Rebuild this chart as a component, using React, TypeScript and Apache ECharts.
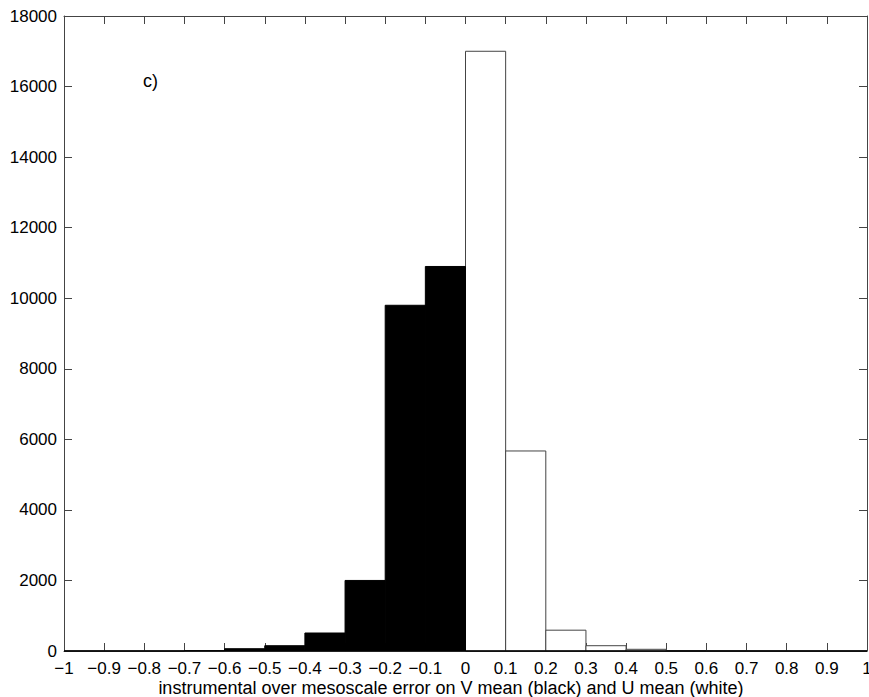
import React, { useEffect, useRef } from "react";
import * as echarts from "echarts";

// Histogram bins (lower and upper edges, width 0.1)
const binLower = [-1, -0.9, -0.8, -0.7, -0.6, -0.5, -0.4, -0.3, -0.2, -0.1, 0, 0.1, 0.2, 0.3, 0.4, 0.5, 0.6, 0.7, 0.8, 0.9];
const binUpper = [-0.9, -0.8, -0.7, -0.6, -0.5, -0.4, -0.3, -0.2, -0.1, 0, 0.1, 0.2, 0.3, 0.4, 0.5, 0.6, 0.7, 0.8, 0.9, 1];
// V mean (black)
const vCounts = [0, 0, 0, 10, 65, 150, 510, 2000, 9800, 10900, 0, 0, 0, 0, 0, 0, 0, 0, 0, 0];
// U mean (white)
const uCounts = [0, 0, 0, 0, 0, 0, 0, 0, 0, 0, 17000, 5670, 590, 150, 48, 12, 6, 3, 2, 0];

const xTitle = "instrumental over mesoscale error on V mean (black) and U mean (white)";
const panelLabel = "c)";

const FONT = "Liberation Sans, Arial, Helvetica, sans-serif";

function fmt(v: number): string {
  const r = Math.round(v * 10) / 10;
  const s = String(Math.abs(r));
  return r < 0 ? "\u2212" + s : s;
}

function makeSeries(name: string, counts: number[], fill: string, stroke: string) {
  return {
    type: "custom",
    name,
    xAxisIndex: 0,
    yAxisIndex: 0,
    data: binLower.map((lo, i) => [lo, binUpper[i], counts[i]]),
    encode: { x: [0, 1], y: 2 },
    renderItem: (_params: any, api: any) => {
      const p0 = api.coord([api.value(0), 0]);
      const p1 = api.coord([api.value(1), api.value(2)]);
      return {
        type: "rect",
        shape: { x: p0[0], y: p1[1], width: p1[0] - p0[0], height: p0[1] - p1[1] },
        style: { fill, stroke, lineWidth: 1 },
      };
    },
  };
}

export default function App() {
  const ref = useRef<HTMLDivElement>(null);
  useEffect(() => {
    if (!ref.current) return;
    const chart = echarts.init(ref.current, null, { renderer: "svg" });
    const axisLine = { show: true, onZero: false, lineStyle: { color: "#444", width: 1 } };
    const tick = { show: true, inside: true, length: 8, lineStyle: { color: "#444", width: 1 } };
    chart.setOption({
      animation: false,
      backgroundColor: "#fff",
      grid: { left: 64, right: 2, top: 16, bottom: 46, containLabel: false, outerBoundsMode: "none" },
      xAxis: [
        {
          type: "value",
          min: -1,
          max: 1,
          interval: 0.1,
          position: "bottom",
          axisLine,
          axisTick: tick,
          splitLine: { show: false },
          axisLabel: {
            formatter: (v: number) => fmt(v),
            color: "#000",
            fontFamily: FONT,
            fontSize: 17,
            lineHeight: 14,
            margin: 10,
            showMinLabel: true,
            showMaxLabel: true,
            hideOverlap: false,
          },
        },
        {
          type: "value",
          min: -1,
          max: 1,
          interval: 0.1,
          position: "top",
          axisLine,
          axisTick: tick,
          splitLine: { show: false },
          axisLabel: { show: false },
        },
      ],
      yAxis: [
        {
          type: "value",
          min: 0,
          max: 18000,
          interval: 2000,
          position: "left",
          axisLine,
          axisTick: tick,
          splitLine: { show: false },
          axisLabel: {
            formatter: (v: number) => String(v),
            color: "#000",
            fontFamily: FONT,
            fontSize: 17,
            margin: 7,
          },
        },
        {
          type: "value",
          min: 0,
          max: 18000,
          interval: 2000,
          position: "right",
          axisLine,
          axisTick: tick,
          splitLine: { show: false },
          axisLabel: { show: false },
        },
      ],
      graphic: [
        {
          type: "text",
          left: 143,
          top: 72,
          style: { text: panelLabel, fill: "#000", font: `18px ${FONT}` },
        },
        {
          type: "text",
          x: 451,
          y: 688,
          style: {
            text: xTitle,
            fill: "#000",
            font: `18px ${FONT}`,
            lineHeight: 16,
            align: "center",
            verticalAlign: "middle",
          },
        },
      ],
      series: [
        makeSeries("U mean", uCounts, "#ffffff", "#444"),
        makeSeries("V mean", vCounts, "#000000", "#000"),
      ],
    });
    return () => chart.dispose();
  }, []);
  return <div ref={ref} style={{ position: "fixed", left: 0, top: 0, width: 869, height: 697 }} />;
}
